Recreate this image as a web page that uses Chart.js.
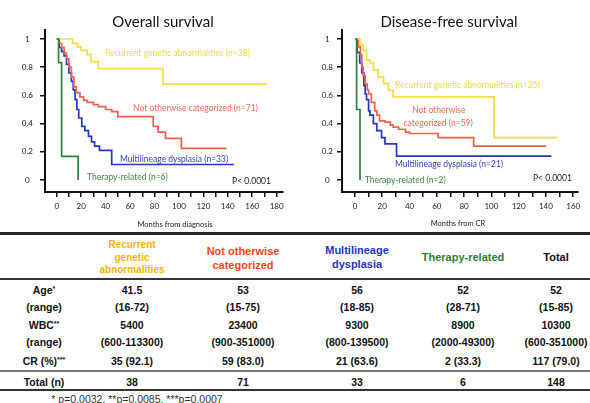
<!DOCTYPE html>
<html>
<head>
<meta charset="utf-8">
<script src="https://cdn.jsdelivr.net/npm/chart.js@4.4.1/dist/chart.umd.min.js"></script>
<style>
  html, body { margin: 0; padding: 0; background: #fff; }
  #page { position: relative; width: 590px; height: 403px; overflow: hidden; background: #fff; }
  canvas { position: absolute; top: 0; }
  #os { left: 0; }
  #dfs { left: 295px; }
  .rule { position: absolute; left: 0; width: 590px; }
  .cell { position: absolute; transform: translate(-50%, -50%); white-space: nowrap; text-align: center;
          font-family: "Liberation Sans", Arial, sans-serif; font-weight: bold; font-size: 10.5px; color: #111; line-height: 1.2; }
  .cell sup { font-size: 7px; vertical-align: 3px; }
</style>
</head>
<body>
<div id="page">
  <canvas id="os" width="295" height="230"></canvas>
  <canvas id="dfs" width="295" height="230"></canvas>
</div>
<script>
(() => {
  'use strict'

  // ---- Overall survival (months from diagnosis) ----
  const osRecT = [0, 13, 17, 20, 25, 28, 34, 87, 172];
  const osRecS = [1, 0.97, 0.945, 0.92, 0.89, 0.84, 0.79, 0.68, 0.68];
  const osNocT = [0, 2, 4, 6, 8, 10, 12, 14, 16, 19, 22, 25, 30, 34, 40, 45, 50, 79, 83, 89, 102, 139];
  const osNocS = [1, 0.97, 0.94, 0.9, 0.86, 0.8, 0.73, 0.66, 0.62, 0.59, 0.565, 0.55, 0.535, 0.52, 0.5, 0.485, 0.45, 0.38, 0.34, 0.295, 0.225, 0.225];
  const osMldT = [0, 2, 4, 6, 8, 10, 12, 13.5, 15, 16.5, 18, 20.5, 23, 26, 28.5, 31, 35, 45, 145];
  const osMldS = [1, 0.94, 0.91, 0.88, 0.82, 0.76, 0.7, 0.64, 0.57, 0.5, 0.44, 0.38, 0.35, 0.31, 0.27, 0.24, 0.21, 0.11, 0.11];
  const osTrT = [0, 1.5, 4, 17.5];
  const osTrS = [1, 0.833, 0.167, 0];

  // ---- Disease-free survival (months from CR) ----
  const dfsRecT = [0, 4, 6, 8.5, 11, 13.5, 17, 21, 24.5, 28, 102, 148];
  const dfsRecS = [1, 0.957, 0.92, 0.85, 0.83, 0.78, 0.73, 0.684, 0.636, 0.59, 0.3, 0.3];
  const dfsNocT = [0, 2.5, 4, 5, 6, 7.5, 9, 10, 12, 14.5, 16, 18, 22, 26, 28, 32, 37, 40, 61, 87, 140];
  const dfsNocS = [1, 0.945, 0.89, 0.8, 0.74, 0.68, 0.64, 0.61, 0.55, 0.49, 0.46, 0.42, 0.41, 0.39, 0.375, 0.36, 0.34, 0.33, 0.3, 0.24, 0.24];
  const dfsMldT = [0, 1.5, 3.5, 5, 6.5, 7.5, 8.5, 10, 11, 13.5, 16, 19.5, 22, 30.5, 144];
  const dfsMldS = [1, 0.905, 0.83, 0.76, 0.67, 0.61, 0.57, 0.49, 0.46, 0.4, 0.35, 0.3, 0.257, 0.17, 0.17];
  const dfsTrT = [0, 1.2, 3.7];
  const dfsTrS = [1, 0.5, 0];

  // ---- ticks ----
  const yTicks = [0, 0.2, 0.4, 0.6, 0.8, 1];
  const yTickLabels = ['0', '0.2', '0.4', '0.6', '0.8', '1'];
  const osXTicks = [0, 10, 20, 30, 40, 50, 60, 70, 80, 90, 100, 110, 120, 130, 140, 150, 160, 170, 180];
  const osXTickLabels = ['0', '', '20', '', '40', '', '60', '', '80', '', '100', '', '120', '', '140', '', '160', '', '180'];
  const dfsXTicks = [0, 10, 20, 30, 40, 50, 60, 70, 80, 90, 100, 110, 120, 130, 140, 150, 160];
  const dfsXTickLabels = ['0', '', '20', '', '40', '', '60', '', '80', '', '100', '', '120', '', '140', '', '160'];

  // ---- curve annotations ----
  const osLabels = ['Recurrent genetic abnormalities (n=38)', 'Not otherwise categorized (n=71)', 'Multilineage dysplasia (n=33)', 'Therapy-related (n=6)', 'P< 0.0001'];
  const osLabelAt = [[39.5, 0.9], [62.5, 0.51], [51.8, 0.15], [24.8, 0.02], [143.5, -0.007]];
  const dfsLabels = ['Recurrent genetic abnormalities (n=35)', 'Not otherwise', 'categorized (n=59)', 'Multilineage dysplasia (n=21)', 'Therapy-related (n=2)', 'P< 0.0001'];
  const dfsLabelAt = [[29.3, 0.67], [61.5, 0.494], [61, 0.406], [29.3, 0.109], [7.3, -0.005], [130.5, 0.009]];

  // ---- table ----
  const groupHeads = [['Recurrent', 'genetic', 'abnormalities'], ['Not otherwise', 'categorized'], ['Multilineage', 'dysplasia'], ['Therapy-related'], ['Total']];
  const rowLabels = ['Age<sup>*</sup>', '(range)', 'WBC<sup>**</sup>', '(range)', 'CR (%)<sup>***</sup>', 'Total (n)'];
  const ageMedian = ['41.5', '53', '56', '52', '52'];
  const ageRange = ['(16-72)', '(15-75)', '(18-85)', '(28-71)', '(15-85)'];
  const wbcMedian = ['5400', '23400', '9300', '8900', '10300'];
  const wbcRange = ['(600-113300)', '(900-351000)', '(800-139500)', '(2000-49300)', '(600-351000)'];
  const crCount = ['35 (92.1)', '59 (83.0)', '21 (63.6)', '2 (33.3)', '117 (79.0)'];
  const totalN = ['38', '71', '33', '6', '148'];
  const footnote = '* p=0.0032, **p=0.0085, ***p=0.0007';

  const YELLOW = '#f1e040';
  const RED = '#f0604b';
  const BLUE = '#2236c8';
  const GREEN = '#2e8040';
  const labelColors = { rec: '#e9d845', noc: '#f06a55', mld: '#2a3cc2', tr: '#3a8a45', p: '#222' };

  function steps(t, s) {
    return t.map((v, i) => ({ x: v, y: s[i] }));
  }

  function labelPlugin(texts, at, colors, aligns, title, axisTitle) {
    return {
      id: 'kmText',
      afterDatasetsDraw(chart) {
        const { ctx, scales: { x, y } } = chart;
        ctx.save();
        ctx.textBaseline = 'middle';
        ctx.font = '8.5px Lato';
        texts.forEach((txt, i) => {
          ctx.fillStyle = colors[i];
          ctx.textAlign = aligns[i];
          ctx.fillText(txt, x.getPixelForValue(at[i][0]), y.getPixelForValue(at[i][1]));
        });
        ctx.fillStyle = '#111';
        ctx.textAlign = 'center';
        ctx.font = '15px Lato';
        ctx.fillText(title.text, title.x, title.y);
        ctx.fillStyle = '#222';
        ctx.font = '7.5px Lato';
        ctx.fillText(axisTitle.text, axisTitle.x, axisTitle.y);
        ctx.restore();
      }
    };
  }

  function kmChart(canvasId, series, cfg) {
    const axisLine = { display: true, color: '#111', width: 2 };
    const tickGrid = { drawOnChartArea: false, drawTicks: true, tickLength: 5, color: '#111', lineWidth: 1.5 };
    return new Chart(document.getElementById(canvasId), {
      type: 'line',
      data: {
        datasets: series.map(s => ({
          data: s.data,
          borderColor: s.color,
          borderWidth: 1.7,
          pointRadius: 0,
          stepped: 'before',
          fill: false,
          tension: 0
        }))
      },
      options: {
        responsive: false,
        animation: false,
        devicePixelRatio: 1,
        layout: { padding: { left: 0, right: 12, top: 30, bottom: 0 } },
        plugins: { legend: { display: false }, tooltip: { enabled: false }, title: { display: false } },
        scales: {
          x: {
            type: 'linear',
            min: cfg.xMin,
            max: cfg.xMax,
            afterBuildTicks: ax => { ax.ticks = cfg.xTicks.map(v => ({ value: v })); },
            afterFit: ax => { ax.height = 38; },
            ticks: {
              autoSkip: false, maxRotation: 0, padding: 5, color: '#1a1a1a',
              font: { family: 'Lato', size: 8 },
              callback: (v, i) => cfg.xTickLabels[i]
            },
            grid: tickGrid,
            border: axisLine
          },
          y: {
            min: -0.085,
            max: 1.064,
            afterBuildTicks: ax => { ax.ticks = yTicks.map(v => ({ value: v })); },
            afterFit: ax => { ax.width = cfg.yWidth; },
            ticks: {
              autoSkip: false, padding: cfg.yPad, crossAlign: 'center', color: '#1a1a1a',
              font: { family: 'Lato', size: 8 },
              callback: (v, i) => yTickLabels[i]
            },
            grid: tickGrid,
            border: axisLine
          }
        }
      },
      plugins: [labelPlugin(cfg.labels, cfg.labelAt, cfg.labelColors, cfg.labelAligns, cfg.title, cfg.axisTitle)]
    });
  }

  kmChart('os', [
    { data: steps(osTrT, osTrS), color: GREEN },
    { data: steps(osRecT, osRecS), color: YELLOW },
    { data: steps(osNocT, osNocS), color: RED },
    { data: steps(osMldT, osMldS), color: BLUE }
  ], {
    xMin: -9.6, xMax: 185.2, xTicks: osXTicks, xTickLabels: osXTickLabels,
    yWidth: 45, yPad: 7,
    labels: osLabels, labelAt: osLabelAt,
    labelColors: [labelColors.rec, labelColors.noc, labelColors.mld, labelColors.tr, labelColors.p],
    labelAligns: ['left', 'left', 'left', 'left', 'left'],
    title: { text: 'Overall survival', x: 163, y: 22 },
    axisTitle: { text: 'Months from diagnosis', x: 175, y: 225 }
  });

  kmChart('dfs', [
    { data: steps(dfsTrT, dfsTrS), color: GREEN },
    { data: steps(dfsRecT, dfsRecS), color: YELLOW },
    { data: steps(dfsNocT, dfsNocS), color: RED },
    { data: steps(dfsMldT, dfsMldS), color: BLUE }
  ], {
    xMin: -9.5, xMax: 163.5, xTicks: dfsXTicks, xTickLabels: dfsXTickLabels,
    yWidth: 47, yPad: 4,
    labels: dfsLabels, labelAt: dfsLabelAt,
    labelColors: [labelColors.rec, labelColors.noc, labelColors.noc, labelColors.mld, labelColors.tr, labelColors.p],
    labelAligns: ['left', 'center', 'center', 'left', 'left', 'left'],
    title: { text: 'Disease-free survival', x: 154, y: 22 },
    axisTitle: { text: 'Months from CR', x: 163, y: 224 }
  });

  // ---- table layout ----
  const page = document.getElementById('page');
  const colX = [132, 243, 357, 463, 556];
  const labelX = 44;
  const headY = [258, 258, 257, 257, 257];
  const headColors = ['#f4b400', '#ff4420', '#2233c4', '#2e7d32', '#111'];
  const headSizes = [10, 11, 11, 11, 11];
  const headLine = [12.5, 14, 13.5, 14, 14];
  const rowY = [290, 307, 325, 342, 361, 381.5];
  const rules = [[232, 2.5, '#262626'], [278.3, 2, '#333'], [369.8, 2, '#777'], [389, 2, '#333']];

  function addCell(html, x, y, style) {
    const d = document.createElement('div');
    d.className = 'cell';
    d.innerHTML = html;
    d.style.left = x + 'px';
    d.style.top = y + 'px';
    Object.assign(d.style, style || {});
    page.appendChild(d);
  }

  rules.forEach(([top, h, c]) => {
    const r = document.createElement('div');
    r.className = 'rule';
    r.style.top = top + 'px';
    r.style.height = h + 'px';
    r.style.background = c;
    page.appendChild(r);
  });

  groupHeads.forEach((lines, i) => {
    addCell(lines.join('<br>'), colX[i], headY[i], {
      color: headColors[i], fontSize: headSizes[i] + 'px', lineHeight: headLine[i] + 'px'
    });
  });

  rowLabels.forEach((lbl, r) => addCell(lbl, labelX, rowY[r]));
  const rows = [ageMedian, ageRange, wbcMedian, wbcRange, crCount, totalN];
  rows.forEach((vals, r) => vals.forEach((v, c) => addCell(v, colX[c], rowY[r])));

  addCell(footnote, 137, 399, { fontWeight: 'normal', fontSize: '10.5px', color: '#333' });
})()
</script>
</body>
</html>
